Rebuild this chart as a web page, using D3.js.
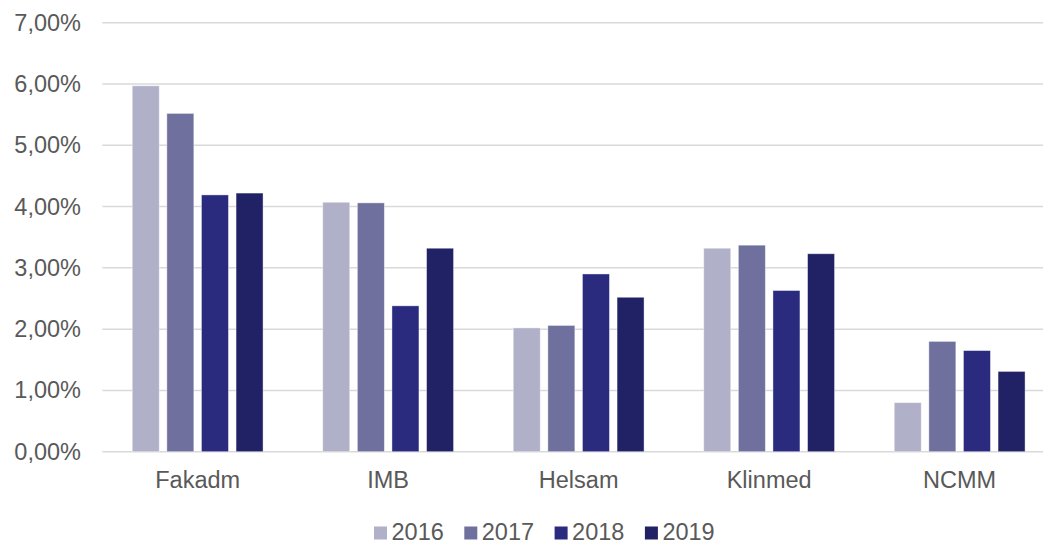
<!DOCTYPE html>
<html>
<head>
<meta charset="utf-8">
<script src="https://cdn.jsdelivr.net/npm/d3@7"></script>
<style>
  body { margin: 0; background: #fff; }
  svg { display: block; font-family: "Liberation Sans", Arial, sans-serif; }
</style>
</head>
<body>
<svg id="chart"></svg>
<script>
// Data
const categories = ["Fakadm", "IMB", "Helsam", "Klinmed", "NCMM"];
const years = ["2016", "2017", "2018", "2019"];
const v2016 = [5.97, 4.07, 2.02, 3.32, 0.80];
const v2017 = [5.52, 4.06, 2.06, 3.37, 1.80];
const v2018 = [4.19, 2.38, 2.90, 2.63, 1.65];
const v2019 = [4.22, 3.32, 2.52, 3.23, 1.31];
const yTicks = [0, 1, 2, 3, 4, 5, 6, 7];

const width = 1043, height = 541;
const colors = ["#b0b0c8", "#70709e", "#2a2a7e", "#212165"];
const textColor = "#595959";
const fontSize = "23.5px";

const series = [v2016, v2017, v2018, v2019];
const rows = categories.map((c, i) => ({
    key: c,
    values: years.map((y, j) => ({ year: y, value: series[j][i] }))
}));

const svg = d3.select("#chart")
    .attr("width", width)
    .attr("height", height);

// Scales (plot runs past the right edge, as in the reference)
const yScale = d3.scaleLinear()
    .domain([0, 7])
    .range([451.7, 22.7]);

const x0 = d3.scaleBand()
    .domain(categories)
    .range([102.4, 1054.9])
    .padding(0);

const x1 = d3.scaleBand()
    .domain(years)
    .range([29.85, 160.65])
    .paddingInner(0.22)
    .paddingOuter(0);

const colorScale = d3.scaleOrdinal()
    .domain(years)
    .range(colors);

// Gridlines
svg.append("g")
    .selectAll("line")
    .data(yTicks)
    .enter().append("line")
    .attr("x1", 102.4)
    .attr("x2", width)
    .attr("y1", d => yScale(d))
    .attr("y2", d => yScale(d))
    .attr("stroke", "#d9d9d9")
    .attr("stroke-width", 1.5);

// Y axis labels
const yAxis = svg.append("g")
    .attr("transform", "translate(81,0)")
    .call(d3.axisLeft(yScale)
        .tickValues(yTicks)
        .tickSize(0)
        .tickPadding(0)
        .tickFormat(d => d.toFixed(2).replace(".", ",") + "%"));
yAxis.select(".domain").remove();
yAxis.selectAll("text")
    .attr("fill", textColor)
    .style("font-size", fontSize)
    .style("font-family", "Liberation Sans, Arial, sans-serif");

// Bars
const groups = svg.append("g")
    .selectAll("g")
    .data(rows)
    .enter().append("g")
    .attr("transform", d => `translate(${x0(d.key)},0)`);

groups.selectAll("rect")
    .data(d => d.values)
    .enter().append("rect")
    .attr("x", d => x1(d.year))
    .attr("y", d => yScale(d.value))
    .attr("width", x1.bandwidth())
    .attr("height", d => yScale(0) - yScale(d.value))
    .attr("fill", d => colorScale(d.year))
    .attr("stroke", "rgba(255,255,255,0.5)")
    .attr("stroke-width", 0.8);

// X axis labels
const xAxis = svg.append("g")
    .attr("transform", "translate(0,451.7)")
    .call(d3.axisBottom(x0).tickSize(0).tickPadding(0));
xAxis.select(".domain").remove();
xAxis.selectAll("text")
    .attr("y", 36.5)
    .attr("dy", 0)
    .attr("fill", textColor)
    .style("font-size", fontSize)
    .style("font-family", "Liberation Sans, Arial, sans-serif");

// Legend
const legend = svg.selectAll(".legend")
    .data(years)
    .enter().append("g")
    .attr("class", "legend")
    .attr("transform", (d, i) => `translate(${374 + i * 90.3},0)`);

legend.append("rect")
    .attr("x", 0)
    .attr("y", 526.5)
    .attr("width", 13)
    .attr("height", 13)
    .attr("fill", d => colorScale(d));

legend.append("text")
    .attr("x", 17.5)
    .attr("y", 540)
    .attr("fill", textColor)
    .style("font-size", fontSize)
    .text(d => d);
</script>
</body>
</html>
